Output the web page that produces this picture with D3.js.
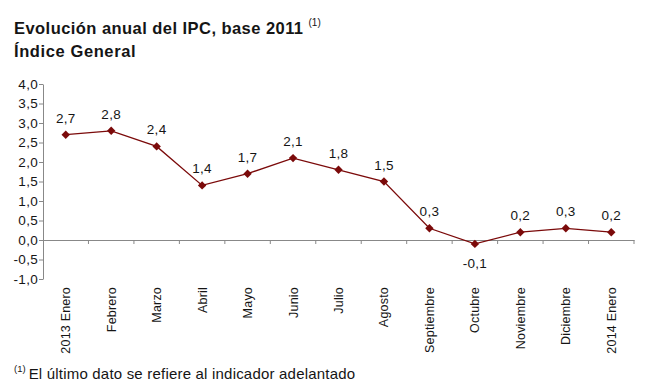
<!DOCTYPE html>
<html><head><meta charset="utf-8">
<script src="https://cdn.jsdelivr.net/npm/d3@7"></script>
<style>body{margin:0;background:#fff}svg{font-family:"Liberation Sans",Arial,sans-serif}</style>
</head><body><svg id="c" width="650" height="390"></svg>
<script>
const categories = ["2013 Enero","Febrero","Marzo","Abril","Mayo","Junio","Julio","Agosto","Septiembre","Octubre","Noviembre","Diciembre","2014 Enero"];
const values = [2.7,2.8,2.4,1.4,1.7,2.1,1.8,1.5,0.3,-0.1,0.2,0.3,0.2];
const yTicks = [-1,-0.5,0,0.5,1,1.5,2,2.5,3,3.5,4];
const fmt = v => d3.format(".1f")(v).replace(".", ",").replace("−","-");

const svg = d3.select("#c");
const x = d3.scaleBand().domain(categories).range([43, 634]);
const y = d3.scaleLinear().domain([-1, 4]).range([279, 84]);
const col = "#7b0a0a";
const txt = "#151515";

// title
const t = svg.append("text").attr("x", 14).attr("y", 34).attr("font-size", 16.5).attr("font-weight", "bold").attr("fill", txt).attr("letter-spacing", 0.45);
t.append("tspan").text("Evolución anual del IPC, base 2011 ");
t.append("tspan").attr("font-size", 10).attr("dy", -8).attr("letter-spacing", 0).attr("font-weight", "normal").text("(1)");
svg.append("text").attr("x", 14).attr("y", 57).attr("font-size", 16.5).attr("font-weight", "bold").attr("fill", txt).attr("letter-spacing", 0.6).text("Índice General");

// y axis
const ya = svg.append("g").attr("transform", "translate(43,0)")
  .call(d3.axisLeft(y).tickValues(yTicks).tickFormat(fmt).tickSize(4).tickSizeOuter(0));
ya.select(".domain").attr("stroke", "#888");
ya.selectAll(".tick line").attr("stroke", "#888");
ya.selectAll("text").attr("font-size", 13.5).attr("letter-spacing", 0.3).attr("fill", txt).attr("font-family", "Liberation Sans, Arial").attr("x", -5);

// x axis at zero
const xa = svg.append("g").attr("transform", `translate(0,${y(0)})`)
  .call(d3.axisBottom(x).tickSize(0).tickFormat(""));
xa.select(".domain").attr("stroke", "#888");
xa.selectAll(".tick").remove();
const bounds = categories.slice(1).map(c => x(c)).concat([x.range()[1]]);
xa.selectAll("line.bt").data(bounds).enter().append("line")
  .attr("x1", d => d).attr("x2", d => d).attr("y1", 0).attr("y2", 4).attr("stroke", "#888");

// category labels
svg.append("g").selectAll("text").data(categories).enter().append("text")
  .attr("transform", d => `translate(${x(d) + x.bandwidth()/2 + 4.5},287) rotate(-90)`)
  .attr("text-anchor", "end").attr("font-size", 12.5).attr("letter-spacing", 0.2).attr("fill", txt).text(d => d);

// line
const cx = (d, i) => x(categories[i]) + x.bandwidth()/2;
svg.append("path").datum(values)
  .attr("d", d3.line().x(cx).y(d => y(d)))
  .attr("fill", "none").attr("stroke", col).attr("stroke-width", 1.3);

svg.append("g").selectAll("path").data(values).enter().append("path")
  .attr("d", d3.symbol(d3.symbolDiamond2, 45))
  .attr("transform", (d, i) => `translate(${cx(d, i)},${y(d)})`)
  .attr("fill", col);

// value labels
svg.append("g").selectAll("text").data(values).enter().append("text")
  .attr("x", cx).attr("y", d => d < 0 ? y(d) + 24 : y(d) - 12)
  .attr("text-anchor", "middle").attr("font-size", 13.5).attr("letter-spacing", 0.3).attr("fill", txt)
  .text(fmt);

// footnote
const f = svg.append("text").attr("x", 14).attr("y", 379).attr("font-size", 15).attr("letter-spacing", 0.2).attr("fill", txt);
f.append("tspan").attr("font-size", 9.5).attr("dy", -7).attr("letter-spacing", 0).text("(1)");
f.append("tspan").attr("dy", 7).attr("dx", 3).text("El último dato se refiere al indicador adelantado");
</script></body></html>
